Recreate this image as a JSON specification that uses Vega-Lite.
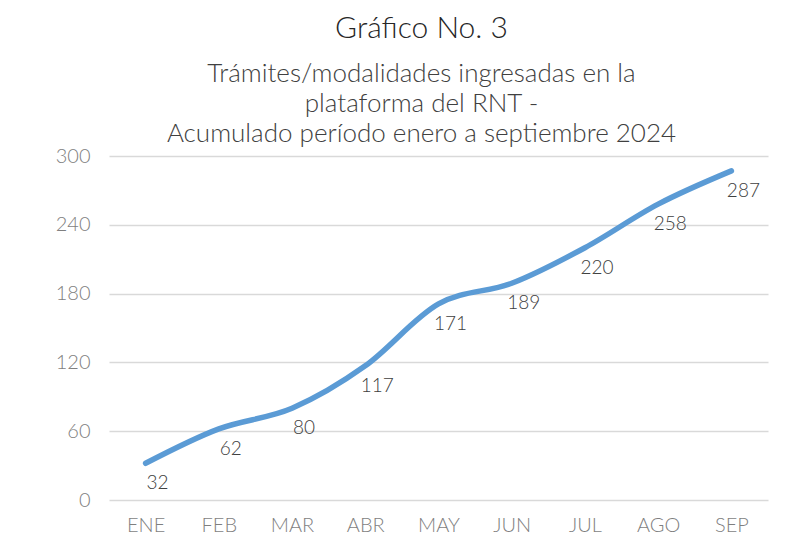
{
  "$schema": "https://vega.github.io/schema/vega-lite/v6.json",
  "autosize": "none",
  "width": 659,
  "height": 344,
  "padding": {"left": 109, "top": 156, "right": 32, "bottom": 58},
  "background": "white",
  "title": {
    "text": "Gráfico No. 3",
    "subtitle": ["Trámites/modalidades ingresadas en la", "plataforma del RNT -", "Acumulado período enero a septiembre 2024"],
    "anchor": "middle",
    "frame": "group",
    "dx": -17,
    "offset": -1,
    "font": "Lato Light, Lato",
    "fontSize": 30,
    "fontWeight": 300,
    "color": "#262626",
    "subtitleFont": "Lato Light, Lato",
    "subtitleFontSize": 26,
    "subtitleFontWeight": 300,
    "subtitleColor": "#404040",
    "subtitleLineHeight": 30,
    "subtitlePadding": 17
  },
  "data": {
    "values": [
      {"mes": "ENE", "valor": 32},
      {"mes": "FEB", "valor": 62},
      {"mes": "MAR", "valor": 80},
      {"mes": "ABR", "valor": 117},
      {"mes": "MAY", "valor": 171},
      {"mes": "JUN", "valor": 189},
      {"mes": "JUL", "valor": 220},
      {"mes": "AGO", "valor": 258},
      {"mes": "SEP", "valor": 287}
    ]
  },
  "encoding": {
    "x": {
      "field": "mes", "type": "ordinal", "sort": null,
      "scale": {"type": "point", "padding": 0.5},
      "axis": {"title": null, "labelAngle": 0, "domain": false, "ticks": false, "grid": false,
               "labelFont": "Lato Light, Lato", "labelFontSize": 20, "labelFontWeight": 300, "labelColor": "#7f7f7f", "labelPadding": 15}
    },
    "y": {
      "field": "valor", "type": "quantitative",
      "scale": {"domain": [0, 300], "nice": false},
      "axis": {"title": null, "values": [0, 60, 120, 180, 240, 300], "domain": false, "ticks": false,
               "grid": true, "gridColor": "#d9d9d9", "gridWidth": 1.5,
               "labelFont": "Lato Light, Lato", "labelFontSize": 20, "labelFontWeight": 300, "labelColor": "#7f7f7f", "labelPadding": 19}
    }
  },
  "layer": [
    {
      "mark": {"type": "line", "interpolate": "monotone", "color": "#5B9BD5", "strokeWidth": 5.5, "strokeCap": "round", "strokeJoin": "round"}
    },
    {
      "mark": {"type": "text", "dx": 12, "dy": 20, "align": "center", "baseline": "middle",
               "font": "Lato Light, Lato", "fontSize": 19, "fontWeight": 300, "color": "#404040"},
      "encoding": {"text": {"field": "valor", "type": "quantitative"}}
    }
  ],
  "config": {"view": {"stroke": null}}
}
